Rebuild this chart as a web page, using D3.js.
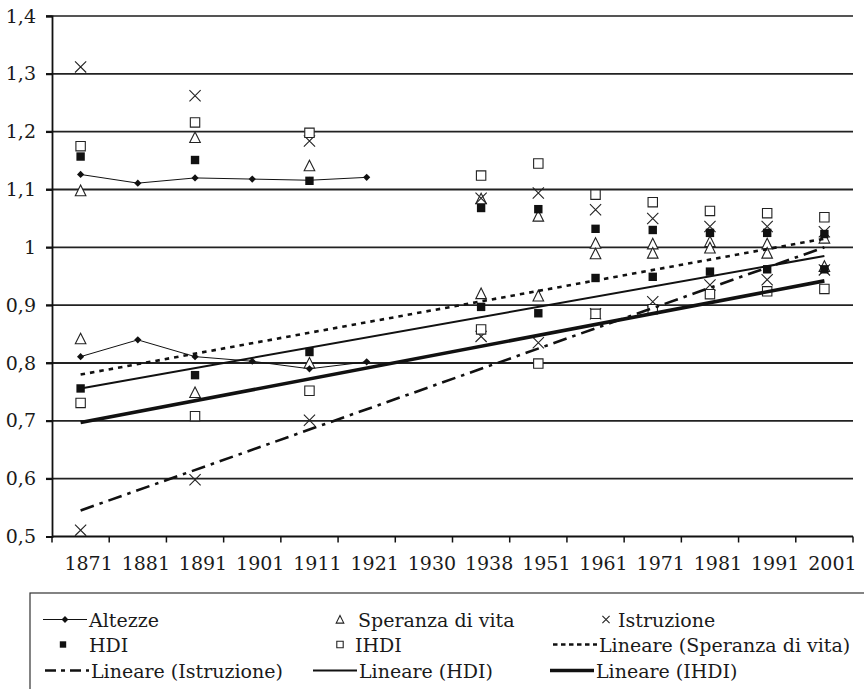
<!DOCTYPE html>
<html>
<head>
<meta charset="utf-8">
<script src="https://cdn.jsdelivr.net/npm/d3@7"></script>
<style>
  body { margin: 0; background: #fff; }
  text { font-family: "DejaVu Serif", serif; fill: #1a1a1a; }
</style>
</head>
<body>
<svg width="864" height="689"></svg>
<script>
// categories on the x axis
const anni = ["1871", "1881", "1891", "1901", "1911", "1921", "1930", "1938", "1951", "1961", "1971", "1981", "1991", "2001"];
const yTicks = [0.5, 0.6, 0.7, 0.8, 0.9, 1.0, 1.1, 1.2, 1.3, 1.4];

// each indicator has an upper and a lower group of points
const altezzeAlto  = [1.126, 1.111, 1.120, 1.118, 1.116, 1.121, null, null, null, null, null, null, null, null];
const altezzeBasso = [0.811, 0.840, 0.811, 0.803, 0.790, 0.802, null, null, null, null, null, null, null, null];
const speranzaAlto  = [1.098, null, 1.190, null, 1.141, null, null, 1.084, 1.054, 1.007, 1.006, 1.010, 1.006, 1.016];
const speranzaBasso = [0.842, null, 0.749, null, 0.800, null, null, 0.920, 0.916, 0.989, 0.990, 0.999, 0.990, 0.967];
const istruzioneAlto  = [1.312, null, 1.262, null, 1.184, null, null, 1.085, 1.094, 1.065, 1.050, 1.036, 1.036, 1.027];
const istruzioneBasso = [0.511, null, 0.598, null, 0.701, null, null, 0.846, 0.835, 0.885, 0.906, 0.935, 0.944, 0.961];
const hdiAlto  = [1.157, null, 1.151, null, 1.115, null, null, 1.068, 1.066, 1.032, 1.030, 1.025, 1.025, 1.023];
const hdiBasso = [0.756, null, 0.779, null, 0.819, null, null, 0.897, 0.886, 0.947, 0.949, 0.958, 0.962, 0.962];
const ihdiAlto  = [1.175, null, 1.216, null, 1.198, null, null, 1.124, 1.145, 1.091, 1.078, 1.063, 1.059, 1.052];
const ihdiBasso = [0.731, null, 0.708, null, 0.752, null, null, 0.858, 0.799, 0.885, 0.893, 0.919, 0.924, 0.928];

// linear trend lines: value at first and last category
const trendAnni = ["1871", "2001"];
const trendSperanza   = [0.780, 1.015];
const trendIstruzione = [0.545, 1.000];
const trendHdi        = [0.756, 0.985];
const trendIhdi       = [0.697, 0.942];

const svg = d3.select("svg");
const ink = "#111";

const x = d3.scaleBand().domain(anni).range([52, 853]).padding(0);
const y = d3.scaleLinear().domain([0.5, 1.4]).range([536.5, 16]);
const cx = a => x(a) + x.bandwidth() / 2;

// gridlines
svg.append("g")
  .selectAll("line")
  .data(yTicks.filter(t => t > 0.5))
  .enter().append("line")
    .attr("x1", 46).attr("x2", 853)
    .attr("y1", d => y(d)).attr("y2", d => y(d))
    .attr("stroke", d => d === 1.4 ? "#555" : "#222")
    .attr("stroke-width", 1.8);

// y axis
const fmt = d => d === 1 ? "1" : d3.format(".1f")(d).replace(".", ",");
const yAxis = svg.append("g")
    .attr("transform", "translate(52,0)")
    .call(d3.axisLeft(y).tickValues(yTicks).tickSize(6).tickPadding(10).tickFormat(fmt));
yAxis.select(".domain").attr("stroke", ink).attr("stroke-width", 1.8);
yAxis.selectAll(".tick line").attr("stroke", ink).attr("stroke-width", 1.8);
yAxis.selectAll(".tick text").attr("font-size", 19).attr("font-family", "DejaVu Serif").attr("fill", "#1a1a1a");

// x axis: baseline, ticks at band edges, labels
const xa = svg.append("g");
xa.append("line")
  .attr("x1", 52).attr("x2", 853)
  .attr("y1", y(0.5)).attr("y2", y(0.5))
  .attr("stroke", ink).attr("stroke-width", 1.8);
xa.selectAll(".edge")
  .data(anni.map(a => x(a)).concat([x.range()[1]]))
  .enter().append("line")
    .attr("x1", d => d).attr("x2", d => d)
    .attr("y1", y(0.5)).attr("y2", y(0.5) + 6)
    .attr("stroke", ink).attr("stroke-width", 1.5);
xa.selectAll("text")
  .data(anni)
  .enter().append("text")
    .attr("x", d => cx(d) + 8)
    .attr("y", 570)
    .attr("text-anchor", "middle")
    .attr("font-size", 19)
    .text(d => d);

// marker shapes
function shape(type, s) {
  if (type === "diamond") return `M0,${-s}L${s},0L0,${s}L${-s},0Z`;
  if (type === "square" || type === "osquare") return `M${-s},${-s}H${s}V${s}H${-s}Z`;
  if (type === "tri") return `M0,${-s * 1.05}L${s},${s * 0.95}L${-s},${s * 0.95}Z`;
  if (type === "x") return `M${-s},${-s}L${s},${s}M${-s},${s}L${s},${-s}`;
}
function styleMarker(sel, type) {
  if (type === "diamond" || type === "square") {
    sel.attr("fill", ink).attr("stroke", "none");
  } else {
    sel.attr("fill", type === "x" ? "none" : "#fff").attr("stroke", "#222").attr("stroke-width", 1.1);
  }
}

const markerSize = {diamond: 3.6, square: 4.2, osquare: 4.7, tri: 5.3, x: 5.6};

function toPoints(vals) {
  return anni.map((a, i) => ({a: a, v: vals[i]})).filter(d => d.v != null);
}

// Altezze: connected thin lines
const altLine = d3.line().x(d => cx(d.a)).y(d => y(d.v));
[altezzeAlto, altezzeBasso].forEach(vals => {
  svg.append("path")
    .datum(toPoints(vals))
    .attr("d", altLine)
    .attr("fill", "none")
    .attr("stroke", ink)
    .attr("stroke-width", 1);
});

// scatter series, drawn in Excel order
const seriesPoints = [
  {vals: speranzaAlto, type: "tri"},
  {vals: speranzaBasso, type: "tri"},
  {vals: istruzioneAlto, type: "x"},
  {vals: istruzioneBasso, type: "x"},
  {vals: hdiAlto, type: "square"},
  {vals: hdiBasso, type: "square"},
  {vals: ihdiAlto, type: "osquare"},
  {vals: ihdiBasso, type: "osquare"},
  {vals: altezzeAlto, type: "diamond"},
  {vals: altezzeBasso, type: "diamond"}
];

// trend lines
const trends = [
  {vals: trendSperanza, dash: "4.5,5", w: 2.6},
  {vals: trendIstruzione, dash: "14,6,3.5,6", w: 2.6},
  {vals: trendHdi, dash: null, w: 2},
  {vals: trendIhdi, dash: null, w: 3.6}
];

seriesPoints.forEach(s => {
  svg.append("g")
    .selectAll("path")
    .data(toPoints(s.vals))
    .enter().append("path")
      .attr("transform", d => `translate(${cx(d.a)},${y(d.v)})`)
      .attr("d", shape(s.type, markerSize[s.type]))
      .call(styleMarker, s.type);
});

trends.forEach(t => {
  svg.append("line")
    .attr("x1", cx(trendAnni[0])).attr("y1", y(t.vals[0]))
    .attr("x2", cx(trendAnni[1])).attr("y2", y(t.vals[1]))
    .attr("stroke", ink)
    .attr("stroke-width", t.w)
    .attr("stroke-dasharray", t.dash);
});

// legend
const legend = svg.append("g");
legend.append("rect")
  .attr("x", 30).attr("y", 593)
  .attr("width", 900).attr("height", 200)
  .attr("fill", "none").attr("stroke", "#333").attr("stroke-width", 1.2);

const legendItems = [
  {label: "Altezze", row: 0, sx: 43, tx: 89, line: {w: 1}, mark: "diamond"},
  {label: "Speranza di vita", row: 0, sx: 340, tx: 358, mark: "tri"},
  {label: "Istruzione", row: 0, sx: 606, tx: 618, mark: "x"},
  {label: "HDI", row: 1, sx: 63, tx: 89, mark: "square"},
  {label: "IHDI", row: 1, sx: 340, tx: 355, mark: "osquare"},
  {label: "Lineare (Speranza di vita)", row: 1, sx: 553, tx: 599, line: {w: 2.6, dash: "4.5,3.5"}},
  {label: "Lineare (Istruzione)", row: 2, sx: 45, tx: 91, line: {w: 2.6, dash: "11,5,4,5"}},
  {label: "Lineare (HDI)", row: 2, sx: 313, tx: 359, line: {w: 2}},
  {label: "Lineare (IHDI)", row: 2, sx: 550, tx: 596, line: {w: 3.6}}
];
const rowY = [626.5, 651.5, 677.5];
const legendMark = {diamond: 3.4, square: 3.2, osquare: 3.2, tri: 3.8, x: 3.6};

legendItems.forEach(it => {
  const by = rowY[it.row];
  const my = by - 7;
  if (it.line) {
    legend.append("line")
      .attr("x1", it.sx).attr("x2", it.tx - 2)
      .attr("y1", my).attr("y2", my)
      .attr("stroke", ink)
      .attr("stroke-width", it.line.w)
      .attr("stroke-dasharray", it.line.dash || null);
  }
  if (it.mark) {
    const mx = it.line ? (it.sx + it.tx - 2) / 2 : it.sx;
    legend.append("path")
      .attr("transform", `translate(${mx},${my})`)
      .attr("d", shape(it.mark, legendMark[it.mark]))
      .call(styleMarker, it.mark);
  }
  legend.append("text")
    .attr("x", it.tx).attr("y", by)
    .attr("font-size", 19)
    .text(it.label);
});
</script>
</body>
</html>
